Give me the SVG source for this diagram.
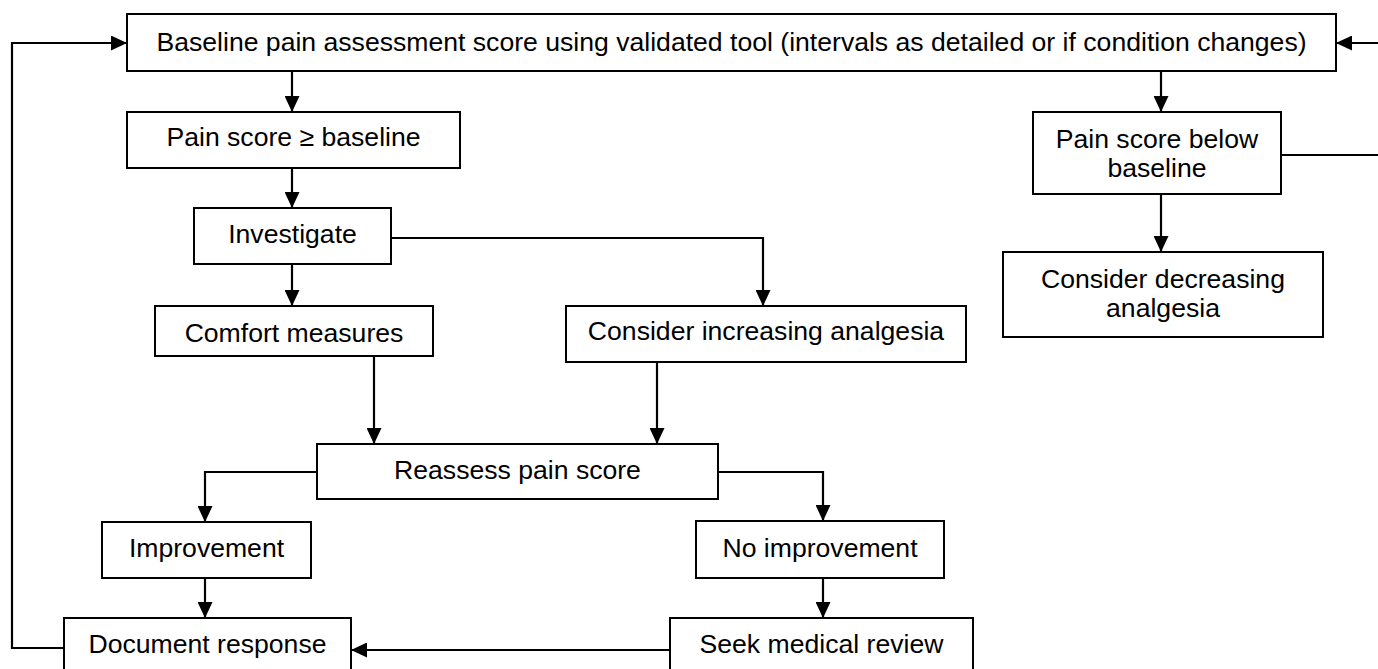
<svg xmlns="http://www.w3.org/2000/svg" width="1378" height="669" viewBox="0 0 1378 669">
<style>
.box{fill:#fff;stroke:#000;stroke-width:2}
.t{font-family:"Liberation Sans",Arial,sans-serif;font-size:26.6px;fill:#000;text-anchor:middle}
.c{fill:none;stroke:#000;stroke-width:2.2}
</style>
<defs>
<marker id="ah" markerUnits="userSpaceOnUse" markerWidth="16" markerHeight="15" refX="16" refY="7.5" orient="auto">
<path d="M0,0 L16,7.5 L0,15 z" fill="#000"/>
</marker>
</defs>
<rect width="1378" height="669" fill="#fff"/>
<g id="connectors">
<path class="c" d="M292,71 V112" marker-end="url(#ah)"/>
<path class="c" d="M1161,71 V112" marker-end="url(#ah)"/>
<path class="c" d="M292,168 V208" marker-end="url(#ah)"/>
<path class="c" d="M292,264 V306" marker-end="url(#ah)"/>
<path class="c" d="M391,238 H763 V306" marker-end="url(#ah)"/>
<path class="c" d="M1161,194 V252" marker-end="url(#ah)"/>
<path class="c" d="M1281,155 H1378"/>
<path class="c" d="M1378,43 H1336" marker-end="url(#ah)"/>
<path class="c" d="M374,356 V444" marker-end="url(#ah)"/>
<path class="c" d="M657,362 V444" marker-end="url(#ah)"/>
<path class="c" d="M317,472 H205 V522" marker-end="url(#ah)"/>
<path class="c" d="M718,472 H823 V521" marker-end="url(#ah)"/>
<path class="c" d="M205,578 V618" marker-end="url(#ah)"/>
<path class="c" d="M823,578 V618" marker-end="url(#ah)"/>
<path class="c" d="M670,650 H351" marker-end="url(#ah)"/>
<path class="c" d="M64,648 H12 V43 H127" marker-end="url(#ah)"/>
</g>
<g id="baseline-assessment">
<rect class="box" x="127" y="14" width="1209" height="57"/>
<text class="t" x="731.5" y="51">Baseline pain assessment score using validated tool (intervals as detailed or if condition changes)</text>
</g>
<g id="pain-ge-baseline">
<rect class="box" x="127" y="112" width="333" height="56"/>
<text class="t" x="293.5" y="146">Pain score ≥ baseline</text>
</g>
<g id="pain-below-baseline">
<rect class="box" x="1033" y="112" width="248" height="82"/>
<text class="t" x="1157" y="148">Pain score below</text>
<text class="t" x="1157" y="177">baseline</text>
</g>
<g id="investigate">
<rect class="box" x="194" y="208" width="197" height="56"/>
<text class="t" x="292.5" y="243">Investigate</text>
</g>
<g id="comfort-measures">
<rect class="box" x="155" y="306" width="278" height="50"/>
<text class="t" x="294" y="342">Comfort measures</text>
</g>
<g id="consider-increasing">
<rect class="box" x="566" y="306" width="400" height="56"/>
<text class="t" x="766" y="340">Consider increasing analgesia</text>
</g>
<g id="consider-decreasing">
<rect class="box" x="1003" y="252" width="320" height="85"/>
<text class="t" x="1163" y="288">Consider decreasing</text>
<text class="t" x="1163" y="317">analgesia</text>
</g>
<g id="reassess">
<rect class="box" x="317" y="444" width="401" height="55"/>
<text class="t" x="517.5" y="479">Reassess pain score</text>
</g>
<g id="improvement">
<rect class="box" x="102" y="522" width="209" height="56"/>
<text class="t" x="206.5" y="557">Improvement</text>
</g>
<g id="no-improvement">
<rect class="box" x="696" y="521" width="248" height="57"/>
<text class="t" x="820" y="557">No improvement</text>
</g>
<g id="document-response">
<rect class="box" x="64" y="618" width="287" height="60"/>
<text class="t" x="207.5" y="653">Document response</text>
</g>
<g id="seek-medical-review">
<rect class="box" x="670" y="618" width="303" height="60"/>
<text class="t" x="821.5" y="653">Seek medical review</text>
</g>
</svg>
